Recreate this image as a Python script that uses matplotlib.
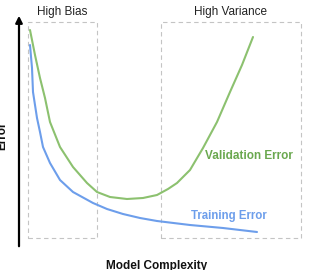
import matplotlib.pyplot as plt
from matplotlib.patches import Rectangle

plt.rcParams['font.family'] = ['Liberation Sans', 'DejaVu Sans']

# curves (x = model complexity, y = error), pixel-like units
val_x = [30, 35, 40, 45, 50, 60, 73, 87, 97, 110, 127, 143, 157, 168, 177, 190, 203, 217, 230, 242, 253]
val_y = [240, 215, 192, 172, 148, 123, 103, 87, 78, 73, 71, 72, 75, 81, 87, 100, 122, 148, 178, 205, 233]
train_x = [30, 32, 33, 37, 40, 43, 50, 60, 73, 93, 107, 123, 140, 157, 190, 223, 257]
train_y = [225, 202, 178, 152, 138, 123, 107, 90, 78, 67, 61, 56, 52, 49, 45, 42, 38]

# region boxes: (left, bottom, right, top) and their titles
regions = [(28, 32, 97, 248), (161, 32, 301, 248)]
region_labels = ["High Bias", "High Variance"]

green_line = "#8cc16f"
green_text = "#6aa84f"
blue_line = "#6d9eeb"
blue_text = "#6d9eeb"

fig = plt.figure(figsize=(3.25, 2.7), dpi=100)
ax = fig.add_axes([0, 0, 1, 1])
ax.set_xlim(0, 325)
ax.set_ylim(0, 270)
ax.axis("off")

# dashed boxes
for (x0, y0, x1, y1), lab in zip(regions, region_labels):
    ax.add_patch(Rectangle((x0, y0), x1 - x0, y1 - y0, fill=False,
                           edgecolor="#c4c4c4", lw=0.8, ls=(0, (4, 3))))
    ax.text((x0 + x1) / 2, 258, lab, ha="center", va="center", fontsize=8.5, color="#222222")

# axes arrows
ax.annotate("", xy=(19, 257), xytext=(19, 21),
            arrowprops=dict(arrowstyle="-|>", color="black", lw=1.6, mutation_scale=10))
ax.annotate("", xy=(326, 22), xytext=(18, 22),
            arrowprops=dict(arrowstyle="-|>", color="black", lw=1.6, mutation_scale=10))

ax.plot(val_x, val_y, color=green_line, lw=1.5, solid_capstyle="round", solid_joinstyle="round")
ax.plot(train_x, train_y, color=blue_line, lw=1.5, solid_capstyle="round", solid_joinstyle="round")

ax.text(249, 114, "Validation Error", ha="center", va="center", fontsize=8.5,
        fontweight="bold", color=green_text)
ax.text(229, 54, "Training Error", ha="center", va="center", fontsize=8.3,
        fontweight="bold", color=blue_text)
ax.text(157, 4, "Model Complexity", ha="center", va="center", fontsize=8.5,
        fontweight="bold", color="#111111")
ax.text(2, 134, "Error", ha="center", va="center", rotation=90, fontsize=8.5,
        fontweight="bold", color="#111111")

fig.savefig("out.png", dpi=100)
